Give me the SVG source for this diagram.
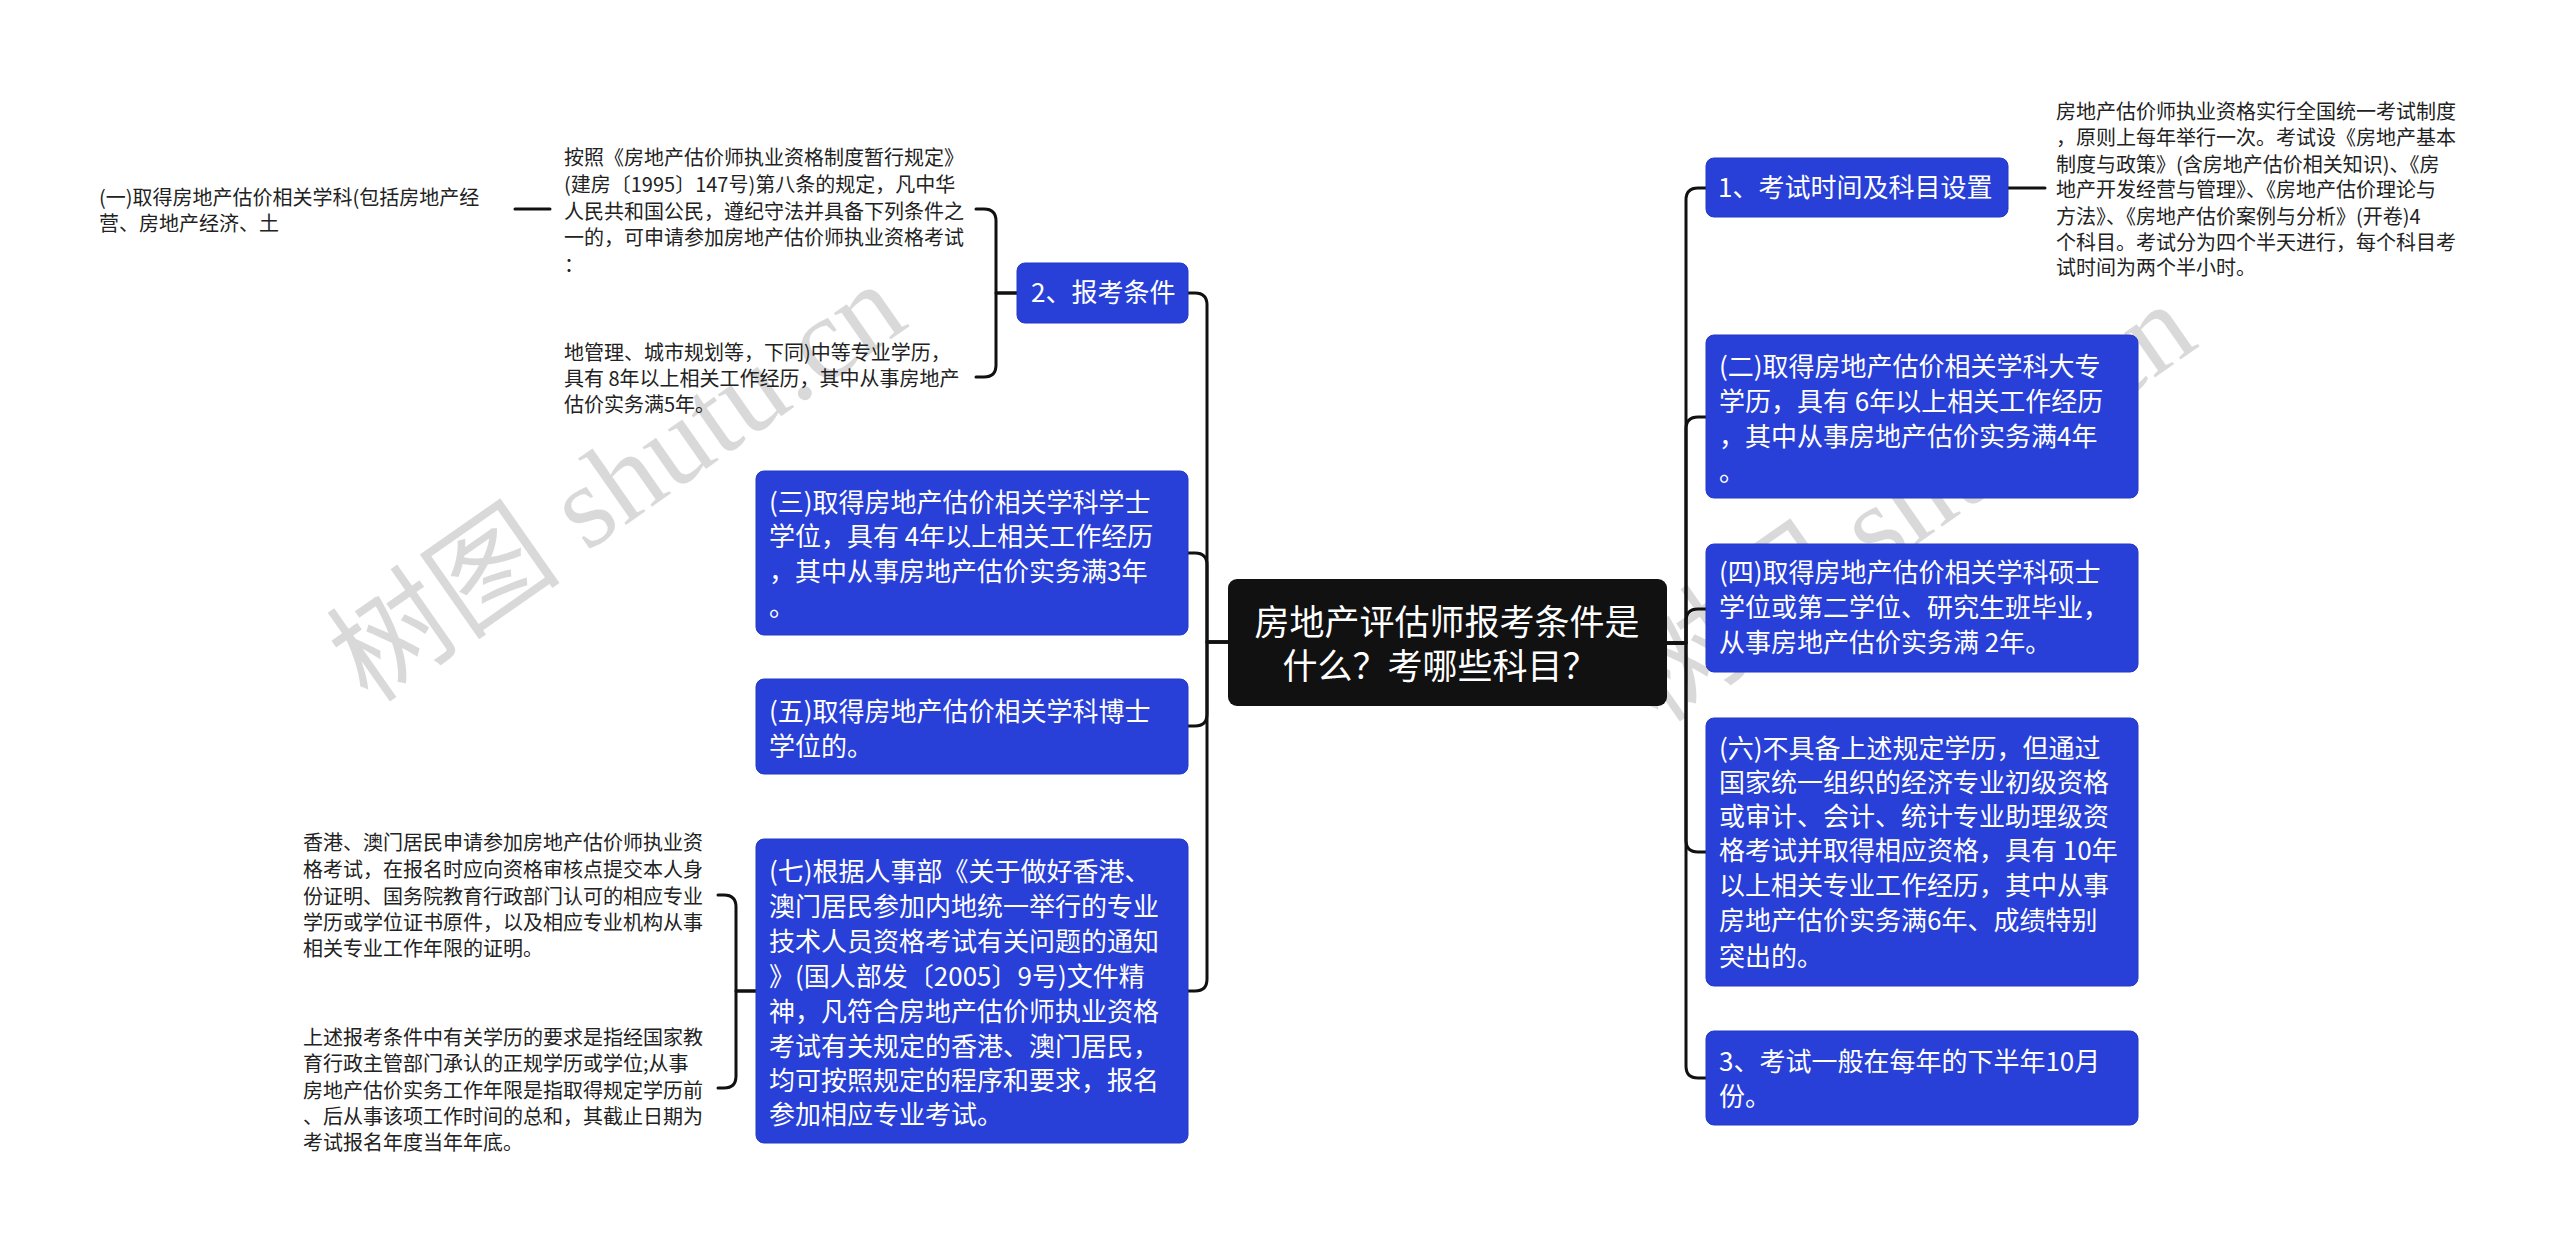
<svg xmlns="http://www.w3.org/2000/svg" width="2560" height="1251" viewBox="0 0 2560 1251">
<style>
.bg{fill:#ffffff}
.box{fill:#2840d8;stroke:#2238c4;stroke-width:1}
.root{fill:#111111}
.wt{font-family:"Noto Sans CJK SC","Noto Sans",sans-serif;font-size:26px;fill:#ffffff}
.rt{font-family:"Noto Sans CJK SC","Noto Sans",sans-serif;font-size:35px;fill:#ffffff;text-anchor:middle}
.pt{font-family:"Noto Sans CJK SC","Noto Sans",sans-serif;font-size:20px;fill:#222222}
.ln{fill:none;stroke:#111111;stroke-width:3;stroke-linecap:round;stroke-linejoin:round}
.wm{font-family:"Liberation Serif","Noto Sans CJK SC",serif;font-size:118px;fill:#000000;fill-opacity:0.15;text-anchor:middle}
</style>
<rect class="bg" x="0" y="0" width="2560" height="1251"/>

<g id="watermarks">
<text class="wm" transform="translate(640,515) rotate(-35)">树图 shutu.cn</text>
<text class="wm" transform="translate(1930,535) rotate(-35)">树图 shutu.cn</text>
</g>

<g id="connectors">
<path class="ln" d="M1228 642 H1207 V305 Q1207 293 1195 293 H1188"/>
<path class="ln" d="M1228 642 H1207 V565 Q1207 553 1195 553 H1188"/>
<path class="ln" d="M1228 642 H1207 V714 Q1207 726 1195 726 H1188"/>
<path class="ln" d="M1228 642 H1207 V979 Q1207 991 1195 991 H1188"/>
<path class="ln" d="M1667 643 H1686 V200 Q1686 188 1698 188 H1706"/>
<path class="ln" d="M1667 643 H1686 V429 Q1686 417 1698 417 H1706"/>
<path class="ln" d="M1667 643 H1686 V621 Q1686 609 1698 609 H1706"/>
<path class="ln" d="M1667 643 H1686 V840 Q1686 852 1698 852 H1706"/>
<path class="ln" d="M1667 643 H1686 V1066 Q1686 1078 1698 1078 H1706"/>
<path class="ln" d="M1017 293 H996 V221 Q996 209 984 209 H976"/>
<path class="ln" d="M1017 293 H996 V365 Q996 377 984 377 H976"/>
<path class="ln" d="M550 209 H515"/>
<path class="ln" d="M2008 188 H2045"/>
<path class="ln" d="M756 991 H736 V907 Q736 895 724 895 H718"/>
<path class="ln" d="M756 991 H736 V1076 Q736 1088 724 1088 H718"/>
</g>

<g id="root">
<rect class="root" x="1228" y="579" width="439" height="127" rx="9"/>
<text class="rt" x="1447" y="635">房地产评估师报考条件是</text>
<text class="rt" x="1440" y="679">什么？考哪些科目？</text>
</g>

<g id="n-baokao">
<rect class="box" x="1017" y="263" width="171" height="60" rx="8"/>
<text class="wt" x="1031" y="302">2、报考条件</text>
</g>

<g id="n-baokao-a">
<text class="pt"><tspan x="564" y="165">按照《房地产估价师执业资格制度暂行规定》</tspan><tspan x="564" y="192">(建房〔1995〕147号)第八条的规定，凡中华</tspan><tspan x="564" y="219">人民共和国公民，遵纪守法并具备下列条件之</tspan><tspan x="564" y="245">一的，可申请参加房地产估价师执业资格考试</tspan><tspan x="564" y="272">：</tspan></text>
</g>

<g id="n-yi">
<text class="pt"><tspan x="99" y="205">(一)取得房地产估价相关学科(包括房地产经</tspan><tspan x="99" y="231">营、房地产经济、土</tspan></text>
</g>

<g id="n-baokao-b">
<text class="pt"><tspan x="564" y="360">地管理、城市规划等，下同)中等专业学历，</tspan><tspan x="564" y="386">具有 8年以上相关工作经历，其中从事房地产</tspan><tspan x="564" y="412">估价实务满5年。</tspan></text>
</g>

<g id="n-san">
<rect class="box" x="756" y="471" width="432" height="164" rx="8"/>
<text class="wt"><tspan x="769" y="512">(三)取得房地产估价相关学科学士</tspan><tspan x="769" y="546">学位，具有 4年以上相关工作经历</tspan><tspan x="769" y="581">，其中从事房地产估价实务满3年</tspan><tspan x="769" y="616">。</tspan></text>
</g>

<g id="n-wu">
<rect class="box" x="756" y="679" width="432" height="95" rx="8"/>
<text class="wt"><tspan x="769" y="721">(五)取得房地产估价相关学科博士</tspan><tspan x="769" y="756">学位的。</tspan></text>
</g>

<g id="n-qi">
<rect class="box" x="756" y="839" width="432" height="304" rx="8"/>
<text class="wt"><tspan x="769" y="881">(七)根据人事部《关于做好香港、</tspan><tspan x="769" y="916">澳门居民参加内地统一举行的专业</tspan><tspan x="769" y="951">技术人员资格考试有关问题的通知</tspan><tspan x="769" y="986">》(国人部发〔2005〕9号)文件精</tspan><tspan x="769" y="1021">神，凡符合房地产估价师执业资格</tspan><tspan x="769" y="1056">考试有关规定的香港、澳门居民，</tspan><tspan x="769" y="1090">均可按照规定的程序和要求，报名</tspan><tspan x="769" y="1124">参加相应专业考试。</tspan></text>
</g>

<g id="n-qi-a">
<text class="pt"><tspan x="303" y="850">香港、澳门居民申请参加房地产估价师执业资</tspan><tspan x="303" y="877">格考试，在报名时应向资格审核点提交本人身</tspan><tspan x="303" y="904">份证明、国务院教育行政部门认可的相应专业</tspan><tspan x="303" y="930">学历或学位证书原件，以及相应专业机构从事</tspan><tspan x="303" y="956">相关专业工作年限的证明。</tspan></text>
</g>

<g id="n-qi-b">
<text class="pt"><tspan x="303" y="1045">上述报考条件中有关学历的要求是指经国家教</tspan><tspan x="303" y="1071">育行政主管部门承认的正规学历或学位;从事</tspan><tspan x="303" y="1098">房地产估价实务工作年限是指取得规定学历前</tspan><tspan x="303" y="1124">、后从事该项工作时间的总和，其截止日期为</tspan><tspan x="303" y="1150">考试报名年度当年年底。</tspan></text>
</g>

<g id="n-kaoshi">
<rect class="box" x="1706" y="158" width="302" height="59" rx="8"/>
<text class="wt" x="1718" y="197">1、考试时间及科目设置</text>
</g>

<g id="n-kaoshi-a">
<text class="pt"><tspan x="2056" y="119">房地产估价师执业资格实行全国统一考试制度</tspan><tspan x="2056" y="145">，原则上每年举行一次。考试设《房地产基本</tspan><tspan x="2056" y="172">制度与政策》(含房地产估价相关知识)、《房</tspan><tspan x="2056" y="197">地产开发经营与管理》、《房地产估价理论与</tspan><tspan x="2056" y="224">方法》、《房地产估价案例与分析》(开卷)4</tspan><tspan x="2056" y="250">个科目。考试分为四个半天进行，每个科目考</tspan><tspan x="2056" y="275">试时间为两个半小时。</tspan></text>
</g>

<g id="n-er">
<rect class="box" x="1706" y="335" width="432" height="163" rx="8"/>
<text class="wt"><tspan x="1719" y="376">(二)取得房地产估价相关学科大专</tspan><tspan x="1719" y="411">学历，具有 6年以上相关工作经历</tspan><tspan x="1719" y="446">，其中从事房地产估价实务满4年</tspan><tspan x="1719" y="481">。</tspan></text>
</g>

<g id="n-si">
<rect class="box" x="1706" y="544" width="432" height="128" rx="8"/>
<text class="wt"><tspan x="1719" y="582">(四)取得房地产估价相关学科硕士</tspan><tspan x="1719" y="617">学位或第二学位、研究生班毕业，</tspan><tspan x="1719" y="652">从事房地产估价实务满 2年。</tspan></text>
</g>

<g id="n-liu">
<rect class="box" x="1706" y="718" width="432" height="268" rx="8"/>
<text class="wt"><tspan x="1719" y="758">(六)不具备上述规定学历，但通过</tspan><tspan x="1719" y="792">国家统一组织的经济专业初级资格</tspan><tspan x="1719" y="826">或审计、会计、统计专业助理级资</tspan><tspan x="1719" y="860">格考试并取得相应资格，具有 10年</tspan><tspan x="1719" y="895">以上相关专业工作经历，其中从事</tspan><tspan x="1719" y="930">房地产估价实务满6年、成绩特别</tspan><tspan x="1719" y="966">突出的。</tspan></text>
</g>

<g id="n-san3">
<rect class="box" x="1706" y="1031" width="432" height="94" rx="8"/>
<text class="wt"><tspan x="1719" y="1071">3、考试一般在每年的下半年10月</tspan><tspan x="1719" y="1106">份。</tspan></text>
</g>
</svg>
